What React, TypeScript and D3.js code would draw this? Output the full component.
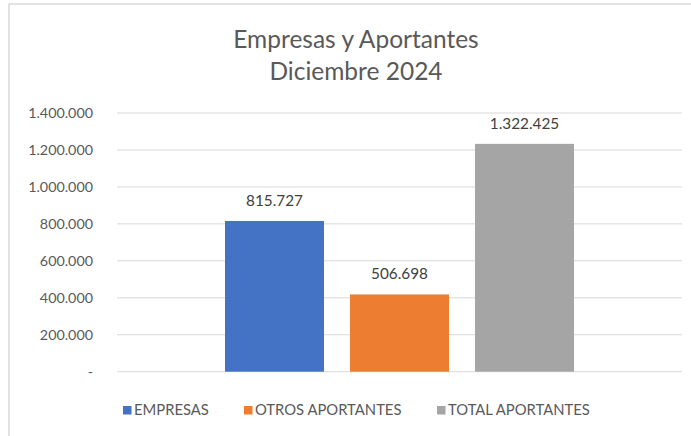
import React from "react";
import * as d3 from "d3";

const series = ["EMPRESAS", "OTROS APORTANTES", "TOTAL APORTANTES"];
const barValues = [815727, 418000, 1233000];
const dataLabels = ["815.727", "506.698", "1.322.425"];
const colors = ["#4472C4", "#ED7D31", "#A5A5A5"];
const yTicks = [0, 200000, 400000, 600000, 800000, 1000000, 1200000, 1400000];
const titleLines = ["Empresas y Aportantes", "Diciembre 2024"];

const W = 691;
const H = 436;
const FONT = "Lato, 'Open Sans', sans-serif";

export default function App() {
  const plotLeft = 117;
  const plotRight = 682;
  const y = d3.scaleLinear().domain([0, 1400000]).range([371.7, 113]);
  const center = (plotLeft + plotRight) / 2;
  const x = d3
    .scaleBand<string>()
    .domain(series)
    .range([center - 187.5, center + 187.5])
    .paddingInner(0.208)
    .paddingOuter(0.104);
  const fmt = (v: number) =>
    v === 0 ? "-" : d3.format(",")(v).replace(/,/g, ".");

  const legendX = [123, 244, 437];

  return (
    <svg
      width={W}
      height={H}
      style={{ position: "absolute", left: 0, top: 0, background: "#fff" }}
    >
      <rect x={0} y={0} width={W} height={H} fill="#fff" />
      <rect
        x={9}
        y={4}
        width={W + 10}
        height={H + 10}
        fill="#fff"
        stroke="#D9D9D9"
        strokeWidth={1.5}
      />
      {titleLines.map((t, i) => (
        <text
          key={t}
          x={356}
          y={48 + i * 32}
          textAnchor="middle"
          fontFamily={FONT}
          fontSize={24.5}
          fill="#595959"
        >
          {t}
        </text>
      ))}
      {yTicks.map((t) => (
        <g key={t}>
          <line
            x1={plotLeft}
            x2={plotRight}
            y1={y(t)}
            y2={y(t)}
            stroke="#D9D9D9"
            strokeWidth={1}
          />
          <text
            x={93}
            y={y(t) + 5}
            textAnchor="end"
            fontFamily={FONT}
            fontSize={14.3}
            fill="#595959"
          >
            {fmt(t)}
          </text>
        </g>
      ))}
      {series.map((s, i) => (
        <g key={s}>
          <rect
            x={x(s)}
            y={y(barValues[i])}
            width={x.bandwidth()}
            height={y(0) - y(barValues[i])}
            fill={colors[i]}
          />
          <text
            x={(x(s) as number) + x.bandwidth() / 2}
            y={y(barValues[i]) - 15}
            textAnchor="middle"
            fontFamily={FONT}
            fontSize={15.3}
            fill="#404040"
          >
            {dataLabels[i]}
          </text>
        </g>
      ))}
      {series.map((s, i) => (
        <g key={"lg" + s}>
          <rect x={legendX[i]} y={406} width={8.5} height={8.5} fill={colors[i]} />
          <text
            x={legendX[i] + 11}
            y={414.8}
            fontFamily={FONT}
            fontSize={14.8}
            fill="#595959"
          >
            {s}
          </text>
        </g>
      ))}
    </svg>
  );
}
